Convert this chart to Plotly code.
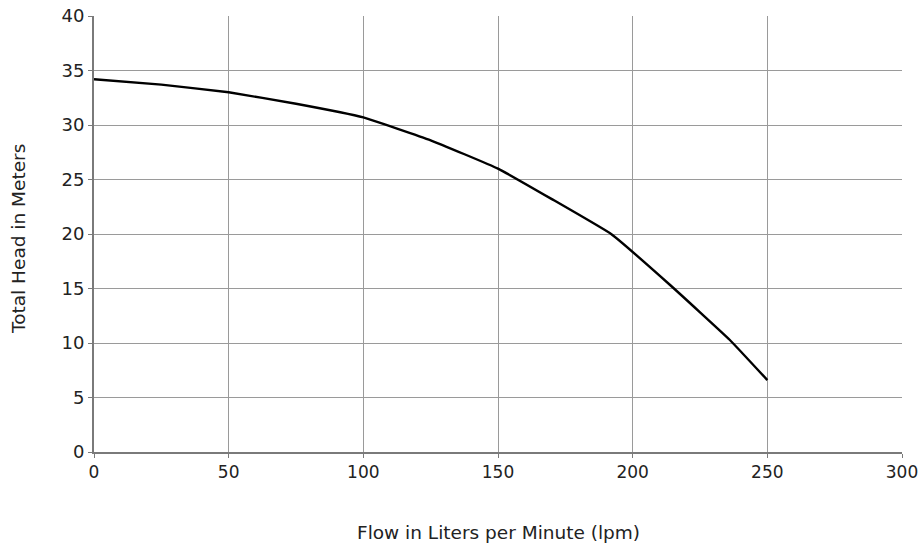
import plotly.graph_objects as go

flow_lpm = [0, 25, 50, 75, 100, 125, 150, 170, 192, 214, 236, 250]
head_m = [34.2, 33.7, 33.0, 31.95, 30.7, 28.6, 26.0, 23.2, 20.0, 15.3, 10.3, 6.6]

x_ticks = [0, 50, 100, 150, 200, 250, 300]
y_ticks = [0, 5, 10, 15, 20, 25, 30, 35, 40]

x_title = "Flow in Liters per Minute (lpm)"
y_title = "Total Head in Meters"

font_family = "'DejaVu Sans', sans-serif"
text_color = "#222222"

fig = go.Figure()
fig.add_trace(go.Scatter(
    x=flow_lpm, y=head_m, mode="lines",
    line=dict(color="#000000", width=2.4, shape="spline", smoothing=0.3),
    showlegend=False, hoverinfo="x+y",
))

fig.update_layout(
    width=919, height=543,
    margin=dict(l=94, r=17, t=16, b=91, autoexpand=False),
    paper_bgcolor="white", plot_bgcolor="white",
    font=dict(family=font_family, size=17, color=text_color),
    annotations=[
        dict(text=x_title, xref="paper", yref="paper", x=0.5, y=0,
             xanchor="center", yanchor="middle", yshift=-80, showarrow=False,
             font=dict(size=18.5, color=text_color)),
        dict(text=y_title, xref="paper", yref="paper", x=0, y=0.5,
             xanchor="center", yanchor="middle", xshift=-76, yshift=-5,
             textangle=-90, showarrow=False,
             font=dict(size=18.5, color=text_color)),
    ],
)
fig.update_xaxes(
    range=[0, 300], tickvals=x_ticks, ticktext=[str(v) for v in x_ticks],
    showgrid=True, gridcolor="#9a9a9a", gridwidth=1,
    showline=True, linecolor="#7a7a7a", linewidth=2,
    ticks="outside", ticklen=4, tickcolor="#7a7a7a",
    zeroline=False, automargin=False,
    tickfont=dict(size=17, color=text_color),
)
fig.update_yaxes(
    range=[0, 40], tickvals=y_ticks, ticktext=[str(v) for v in y_ticks],
    showgrid=True, gridcolor="#9a9a9a", gridwidth=1,
    showline=True, linecolor="#7a7a7a", linewidth=2,
    ticks="outside", ticklen=4, tickcolor="#7a7a7a",
    zeroline=False, automargin=False,
    tickfont=dict(size=18, color=text_color),
)

fig.write_html(
    "out.html",
    config={"displayModeBar": False},
    post_script="document.body.style.margin='0';document.body.style.overflow='hidden';",
)
